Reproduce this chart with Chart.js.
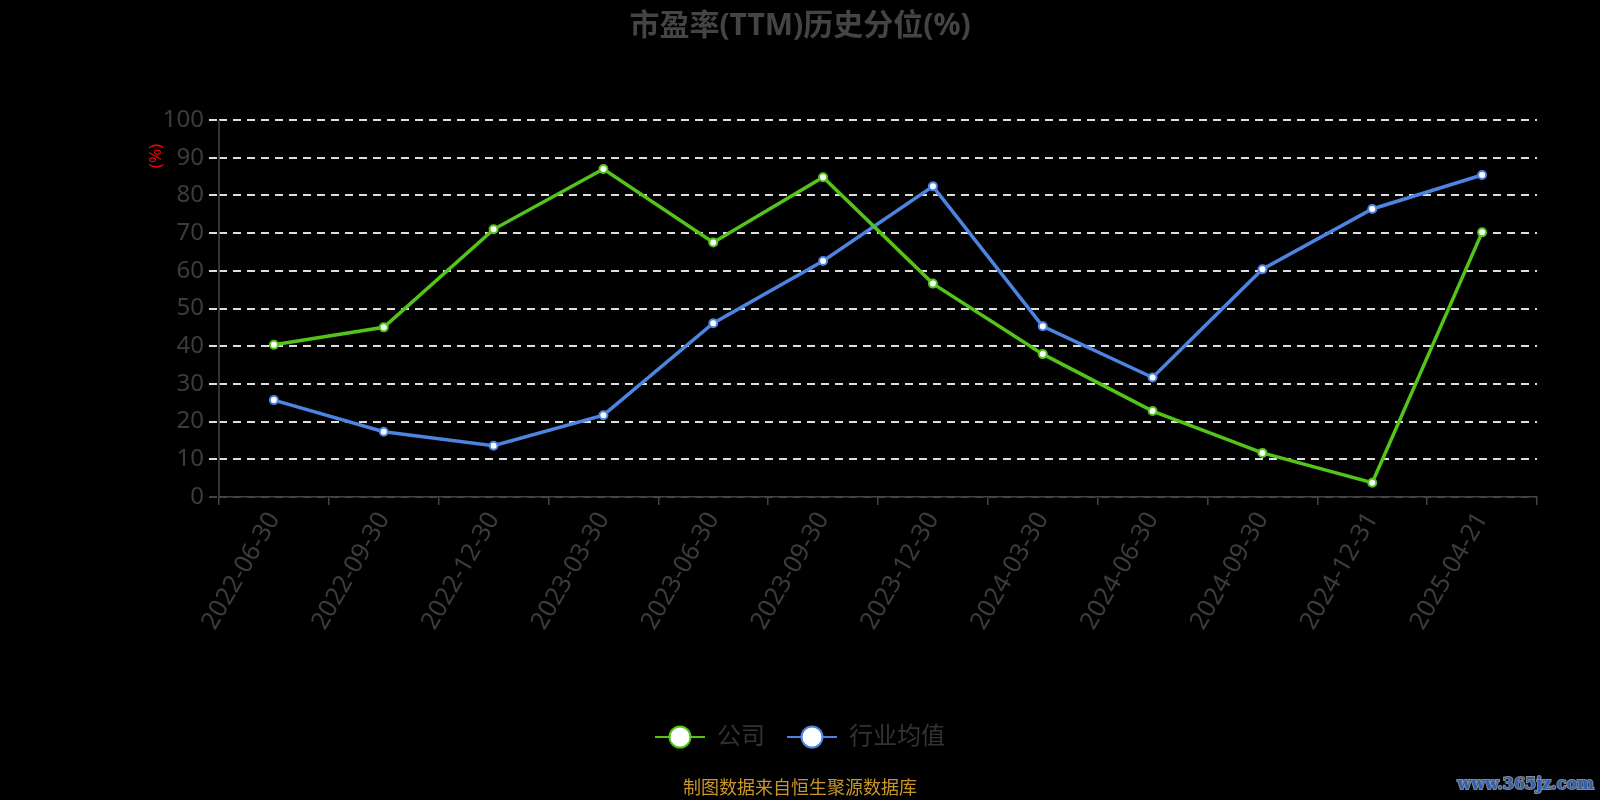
<!DOCTYPE html>
<html>
<head>
<meta charset="utf-8">
<script src="https://cdn.jsdelivr.net/npm/chart.js@4.4.1/dist/chart.umd.min.js"></script>
<style>
    html, body { margin: 0; padding: 0; background: #000; }
    #wrap { width: 1600px; height: 800px; }
</style>
</head>
<body>
<div id="wrap"><canvas id="peChart" width="1600" height="800"></canvas></div>
<script>
// Data
const dates = ['2022-06-30', '2022-09-30', '2022-12-30', '2023-03-30', '2023-06-30', '2023-09-30',
    '2023-12-30', '2024-03-30', '2024-06-30', '2024-09-30', '2024-12-31', '2025-04-21'];
const companyValues = [40.4, 45.0, 71.0, 87.0, 67.5, 84.8, 56.6, 37.9, 22.8, 11.7, 3.8, 70.2];
const industryValues = [25.7, 17.3, 13.6, 21.7, 46.1, 62.6, 82.4, 45.3, 31.7, 60.4, 76.4, 85.4];
const yTicks = [0, 10, 20, 30, 40, 50, 60, 70, 80, 90, 100];

const GREEN = '#52c41a';
const BLUE = '#4d84e2';
const FONT = '"Noto Sans", "Noto Sans CJK SC", sans-serif';

// legend marker: short line with a big hollow circle
function legendMarker(color) {
    const c = document.createElement('canvas');
    c.width = 50;
    c.height = 26;
    const g = c.getContext('2d');
    g.strokeStyle = color;
    g.lineWidth = 2;
    g.beginPath();
    g.moveTo(0, 13);
    g.lineTo(50, 13);
    g.stroke();
    g.beginPath();
    g.arc(25, 13, 10.5, 0, Math.PI * 2);
    g.fillStyle = '#fff';
    g.fill();
    g.lineWidth = 2;
    g.stroke();
    return c;
}

// extra texts: unit label, footer and watermark, plus the solid y axis line
const extraText = {
    id: 'extraText',
    afterDatasetsDraw(chart) {
        const ctx = chart.ctx;
        const area = chart.chartArea;
        ctx.save();
        ctx.strokeStyle = '#444';
        ctx.lineWidth = 1.5;
        ctx.setLineDash([]);
        ctx.beginPath();
        ctx.moveTo(area.left, area.top);
        ctx.lineTo(area.left, area.bottom);
        ctx.stroke();
        ctx.restore();
    },
    afterDraw(chart) {
        const ctx = chart.ctx;
        ctx.save();
        ctx.translate(156, 156);
        ctx.rotate(-Math.PI / 2);
        ctx.fillStyle = '#ff0000';
        ctx.font = '17px ' + FONT;
        ctx.textAlign = 'center';
        ctx.textBaseline = 'middle';
        ctx.fillText('(%)', 0, 0);
        ctx.restore();

        ctx.save();
        ctx.fillStyle = '#c9962a';
        ctx.font = '18px ' + FONT;
        ctx.textAlign = 'center';
        ctx.textBaseline = 'middle';
        ctx.fillText('制图数据来自恒生聚源数据库', 800, 789);

        ctx.font = 'bold 16px "DejaVu Serif", serif';
        ctx.textAlign = 'right';
        ctx.lineWidth = 2;
        ctx.strokeStyle = '#8a8a8a';
        ctx.strokeText('www.365jz.com', 1594, 785);
        ctx.fillStyle = '#2d5fb5';
        ctx.fillText('www.365jz.com', 1594, 785);
        ctx.restore();
    }
};

const ctx = document.getElementById('peChart').getContext('2d');
new Chart(ctx, {
    type: 'line',
    data: {
        labels: dates,
        datasets: [{
            label: '公司',
            data: companyValues,
            borderColor: GREEN,
            borderWidth: 3.5,
            pointRadius: 4,
            pointBorderWidth: 2,
            pointBackgroundColor: '#fff',
            pointBorderColor: GREEN,
            pointStyle: 'circle',
            tension: 0
        }, {
            label: '行业均值',
            data: industryValues,
            borderColor: BLUE,
            borderWidth: 3.5,
            pointRadius: 4,
            pointBorderWidth: 2,
            pointBackgroundColor: '#fff',
            pointBorderColor: BLUE,
            pointStyle: 'circle',
            tension: 0
        }]
    },
    options: {
        responsive: false,
        animation: false,
        layout: { padding: { left: 63, right: 63, top: 0, bottom: 41 } },
        plugins: {
            title: {
                display: true,
                text: '市盈率(TTM)历史分位(%)',
                color: '#444',
                font: { family: FONT, size: 30, weight: 'bold' },
                padding: { top: 8, bottom: 76 }
            },
            legend: {
                position: 'bottom',
                labels: {
                    color: '#333',
                    font: { family: FONT, size: 24 },
                    usePointStyle: true,
                    pointStyleWidth: 50,
                    boxHeight: 26,
                    padding: 22,
                    generateLabels(chart) {
                        return chart.data.datasets.map((ds, i) => ({
                            text: ds.label,
                            fontColor: '#333',
                            pointStyle: legendMarker(ds.borderColor),
                            datasetIndex: i,
                            hidden: false,
                            lineWidth: 0
                        }));
                    }
                }
            },
            tooltip: { enabled: false }
        },
        scales: {
            x: {
                offset: true,
                afterFit(scale) { scale.height = 206; },
                grid: {
                    offset: true,
                    drawOnChartArea: false,
                    drawTicks: true,
                    tickLength: 8,
                    color: '#444',
                    lineWidth: 1.5
                },
                border: { color: '#444', width: 1.5, z: 1 },
                ticks: {
                    color: '#3c3c3c',
                    font: { family: FONT, size: 25 },
                    minRotation: 60,
                    maxRotation: 60,
                    padding: 2,
                    autoSkip: false
                }
            },
            y: {
                min: yTicks[0],
                max: yTicks[yTicks.length - 1],
                afterFit(scale) { scale.width = 156; },
                afterBuildTicks(scale) { scale.ticks = yTicks.map(v => ({ value: v })); },
                grid: {
                    color: c => (c.tick && c.tick.value === 0 ? '#444' : '#dddddd'),
                    lineWidth: 2,
                    tickBorderDash: [8, 6],
                    tickLength: 10
                },
                border: { display: false, dash: [8, 6] },
                ticks: {
                    color: '#3c3c3c',
                    font: { family: FONT, size: 24 },
                    padding: 5
                }
            }
        }
    },
    plugins: [extraText]
});
</script>
</body>
</html>
